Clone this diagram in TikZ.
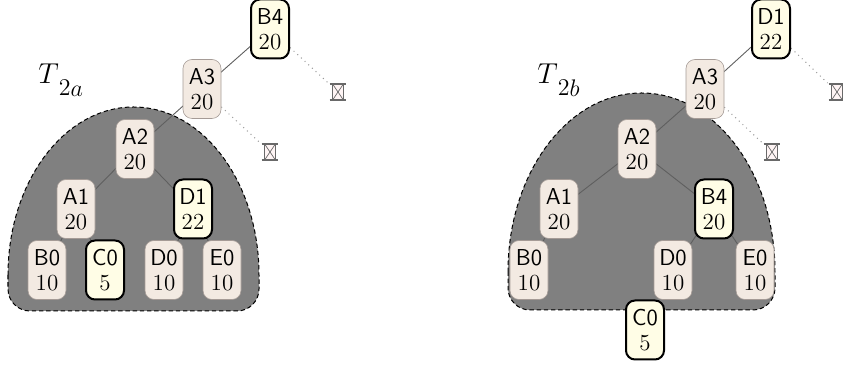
\documentclass[tikz,border=0pt]{standalone}
\pgfdeclarelayer{back}
\pgfdeclarelayer{edges}
\pgfsetlayers{back,edges,main}
\definecolor{nodebeige}{RGB}{243,234,226}
\definecolor{nodeyellow}{RGB}{255,253,230}
\definecolor{blobgray}{RGB}{128,128,128}
\definecolor{linkgray}{RGB}{95,95,95}
\definecolor{nilgray}{RGB}{105,105,105}
\definecolor{beigeborder}{RGB}{165,155,150}
\tikzset{
  tn/.style={rectangle, rounded corners=4.5pt, minimum width=19pt, minimum height=29.5pt,
    inner sep=0pt, align=center, font=\fontsize{11.5}{12.5}\selectfont,
    fill=nodebeige, draw=beigeborder, line width=0.3pt},
  hn/.style={tn, fill=nodeyellow, draw=black, line width=1pt},
  link/.style={draw=linkgray, line width=0.45pt},
  nilink/.style={draw=gray!80, dotted, line width=0.5pt},
  blob/.style={fill=blobgray, draw=black, line width=0.5pt, dash pattern=on 2.2pt off 1.4pt},
  nil/.style={inner sep=0pt, minimum width=9pt, minimum height=9pt,
    path picture={
      \fill[red!4] ([shift={(-2.7pt,-4pt)}]path picture bounding box.center) rectangle ++(5.4pt,8pt);
      \draw[nilgray, line width=0.35pt] ([shift={(-2.7pt,4pt)}]path picture bounding box.center) -- ++(5.4pt,-8pt)
        ([shift={(2.7pt,4pt)}]path picture bounding box.center) -- ++(-5.4pt,-8pt);
      \draw[nilgray, line width=0.6pt] ([shift={(-4.2pt,4pt)}]path picture bounding box.center) -- ++(8.4pt,0pt)
        ([shift={(-4.2pt,-4pt)}]path picture bounding box.center) -- ++(8.4pt,0pt)
        ([shift={(-2.7pt,4pt)}]path picture bounding box.center) -- ++(0pt,-8pt)
        ([shift={(2.7pt,4pt)}]path picture bounding box.center) -- ++(0pt,-8pt);
    }},
  tlabel/.style={anchor=base west, inner sep=0pt}
}
\newcommand{\nd}[2]{\textsf{#1}\\#2}
\newcommand{\tlab}[1]{{\fontsize{14.5}{16}\selectfont$T$}\raisebox{-6pt}{\fontsize{13}{14}\selectfont$2$}\raisebox{-6.3pt}{\fontsize{11.5}{12}\selectfont$#1$}}
\begin{document}
\begin{tikzpicture}[x=0.5pt, y=-0.5pt]
\useasboundingbox (0,0) rectangle (843,368);

% ---------- T2a ----------
\node[hn] (B4a) at (270,29) {\nd{B4}{20}};
\node[tn] (A3a) at (202,89) {\nd{A3}{20}};
\node[tn] (A2a) at (135,149) {\nd{A2}{20}};
\node[tn] (A1a) at (76,209) {\nd{A1}{20}};
\node[hn] (D1a) at (193,209) {\nd{D1}{22}};
\node[tn] (B0a) at (47,270) {\nd{B0}{10}};
\node[hn] (C0a) at (105,270) {\nd{C0}{5}};
\node[tn] (D0a) at (164,270) {\nd{D0}{10}};
\node[tn] (E0a) at (222,270) {\nd{E0}{10}};
\node[nil] (na1) at (270,152) {};
\node[nil] (na2) at (338,92) {};
\node[tlabel] (La) at (38,84) {\tlab{a}};

% ---------- T2b ----------
\node[hn] (D1b) at (771,29) {\nd{D1}{22}};
\node[tn] (A3b) at (705,89) {\nd{A3}{20}};
\node[tn] (A2b) at (637,149) {\nd{A2}{20}};
\node[tn] (A1b) at (559,209) {\nd{A1}{20}};
\node[hn] (B4b) at (714,209) {\nd{B4}{20}};
\node[tn] (B0b) at (529,270) {\nd{B0}{10}};
\node[tn] (D0b) at (673,270) {\nd{D0}{10}};
\node[tn] (E0b) at (755,270) {\nd{E0}{10}};
\node[hn] (C0b) at (645,330) {\nd{C0}{5}};
\node[nil] (nb1) at (772,152) {};
\node[nil] (nb2) at (837,92) {};
\node[tlabel] (Lb) at (537,84) {\tlab{b}};

\begin{pgfonlayer}{edges}
  \draw[link] (B4a.center) -- (A3a.center);
  \draw[link] (A3a.center) -- (A2a.center);
  \draw[link] (A2a.center) -- (A1a.center);
  \draw[link] (A2a.center) -- (D1a.center);
  \draw[link] (A1a.center) -- (B0a.center);
  \draw[link] (A1a.center) -- (C0a.center);
  \draw[link] (D1a.center) -- (D0a.center);
  \draw[link] (D1a.center) -- (E0a.center);
  \draw[nilink] (A3a) -- (na1);
  \draw[nilink] (B4a) -- (na2);

  \draw[link] (D1b.center) -- (A3b.center);
  \draw[link] (A3b.center) -- (A2b.center);
  \draw[link] (A2b.center) -- (A1b.center);
  \draw[link] (A2b.center) -- (B4b.center);
  \draw[link] (A1b.center) -- (B0b.center);
  \draw[link] (B4b.center) -- (D0b.center);
  \draw[link] (B4b.center) -- (E0b.center);
  \draw[nilink] (A3b) -- (nb1);
  \draw[nilink] (D1b) -- (nb2);
\end{pgfonlayer}

\begin{pgfonlayer}{back}
  \path[blob] (8,275)
    arc[start angle=180, end angle=0, x radius=62.75pt, y radius=84pt]
    -- (259,289) arc[start angle=0, end angle=-90, radius=11pt]
    -- (30,311) arc[start angle=270, end angle=180, radius=11pt]
    -- cycle;
  \path[blob] (508,272)
    arc[start angle=180, end angle=0, x radius=66.75pt, y radius=89.5pt]
    -- (775,288) arc[start angle=0, end angle=-90, radius=11pt]
    -- (530,310) arc[start angle=270, end angle=180, radius=11pt]
    -- cycle;
\end{pgfonlayer}
\end{tikzpicture}
\end{document}
